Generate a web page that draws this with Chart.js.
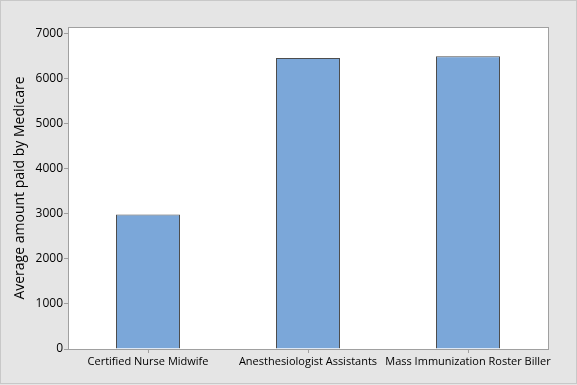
<!DOCTYPE html>
<html>
<head>
<meta charset="utf-8">
<script src="https://cdn.jsdelivr.net/npm/chart.js@4"></script>
<style>
  html, body { margin: 0; padding: 0; background: #e5e5e5; }
  canvas { display: block; }
</style>
</head>
<body>
<canvas id="myChart" width="577" height="385"></canvas>
<script>
const categories = ['Certified Nurse Midwife', 'Anesthesiologist Assistants', 'Mass Immunization Roster Biller']
const avgPaid = [2985, 6450, 6490]
const yTicks = [0, 1000, 2000, 3000, 4000, 5000, 6000, 7000]

// frame + white plot area + gray border
const framePlugin = {
    id: 'frame',
    beforeDraw(chart) {
        const { ctx, chartArea: a, width, height } = chart
        ctx.save()
        ctx.fillStyle = '#e5e5e5'
        ctx.fillRect(0, 0, width, height)
        ctx.strokeStyle = '#c8c8c8'
        ctx.lineWidth = 1
        ctx.strokeRect(0.5, 0.5, width - 1, height - 2)
        ctx.fillStyle = '#ffffff'
        ctx.fillRect(a.left, a.top, a.right - a.left, a.bottom - a.top)
        ctx.restore()
    },
    afterDraw(chart) {
        const { ctx, chartArea: a } = chart
        ctx.save()
        ctx.strokeStyle = '#a0a0a0'
        ctx.lineWidth = 1
        ctx.strokeRect(Math.round(a.left) + 0.5, Math.round(a.top) + 0.5,
            Math.round(a.right - a.left), Math.round(a.bottom - a.top))
        ctx.restore()
    }
}

const font = { family: 'Open Sans', size: 11 }

new Chart(document.getElementById('myChart'), {
    type: 'bar',
    data: {
        labels: categories,
        datasets: [{
            data: avgPaid,
            backgroundColor: '#7ba7d9',
            borderColor: '#4d4d4d',
            borderWidth: 1,
            categoryPercentage: 1,
            barPercentage: 0.4
        }]
    },
    options: {
        responsive: false,
        animation: false,
        layout: { padding: { top: 27, right: 29, left: 0, bottom: 0 } },
        plugins: {
            legend: { display: false },
            tooltip: { enabled: false }
        },
        scales: {
            x: {
                grid: { display: true, offset: false, drawOnChartArea: false, drawTicks: true, tickLength: 4, color: '#a0a0a0' },
                border: { display: true, color: '#a0a0a0' },
                ticks: { color: '#000', font, padding: 2, maxRotation: 0, autoSkip: false },
                afterFit: s => { s.height = 36 }
            },
            y: {
                min: 0,
                max: 7140,
                afterBuildTicks: s => { s.ticks = yTicks.map(v => ({ value: v })) },
                grid: { display: true, drawOnChartArea: false, drawTicks: true, tickLength: 4, color: '#a0a0a0' },
                border: { display: true, color: '#a0a0a0' },
                ticks: { color: '#000', font: { family: 'Open Sans', size: 12 }, padding: 1, callback: v => String(v) },
                title: {
                    display: true,
                    text: 'Average amount paid by Medicare',
                    color: '#000',
                    font: { family: 'Open Sans', size: 14 },
                    padding: { top: 12, bottom: 4 }
                },
                afterFit: s => { s.width = 68 }
            }
        }
    },
    plugins: [framePlugin]
})
</script>
</body>
</html>
